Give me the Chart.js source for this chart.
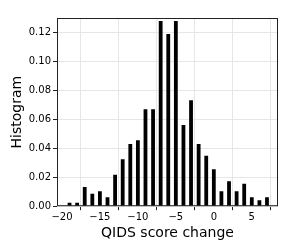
<!DOCTYPE html>
<html>
<head>
<meta charset="utf-8">
<script src="https://cdn.jsdelivr.net/npm/chart.js@4/dist/chart.umd.min.js"></script>
<style>
  html, body { margin: 0; padding: 0; background: #fff; }
  #wrap { width: 288px; height: 252px; }
</style>
</head>
<body>
<div id="wrap"><canvas id="chart"></canvas></div>
<script>
// QIDS score change histogram values
const scoreChange = [-19, -18, -17, -16, -15, -14, -13, -12, -11, -10, -9, -8, -7, -6,
                     -5, -4, -3, -2, -1, 0, 1, 2, 3, 4, 5, 6, 7];
const density = [0.0023, 0.0023, 0.0133, 0.0085, 0.0103, 0.0062, 0.0216, 0.0324, 0.0428, 0.0455,
                 0.0669, 0.0669, 0.1276, 0.1186, 0.1276, 0.0559, 0.0731, 0.0428, 0.0347, 0.0255,
                 0.0103, 0.0172, 0.0103, 0.0154, 0.0062, 0.0041, 0.0062];

const points = scoreChange.map((x, i) => ({ x: x, y: density[i] }));

// draw the box round the plot area like matplotlib
const frame = {
    id: 'frame',
    afterDraw(chart) {
        const a = chart.chartArea;
        const ctx = chart.ctx;
        ctx.save();
        ctx.strokeStyle = '#222';
        ctx.lineWidth = 1;
        ctx.strokeRect(a.left + 0.5, a.top + 0.5, a.right - a.left - 1, a.bottom - a.top - 1);
        ctx.restore();
    }
};

const font = { family: 'DejaVu Sans', size: 10 };

new Chart(document.getElementById('chart'), {
    type: 'bar',
    data: {
        datasets: [{
            data: points,
            backgroundColor: '#000',
            barPercentage: 0.5,
            categoryPercentage: 1.0
        }]
    },
    plugins: [frame],
    options: {
        responsive: true,
        maintainAspectRatio: false,
        animation: false,
        layout: { padding: { top: 18, right: 10, left: 9, bottom: 10 } },
        plugins: { legend: { display: false }, tooltip: { enabled: false } },
        scales: {
            x: {
                type: 'linear',
                min: -20.65,
                max: 8.45,
                offset: false,
                grid: { color: '#e6e6e6', tickColor: '#222', tickLength: 4, drawOnChartArea: true },
                border: { display: false },
                ticks: { stepSize: 5, includeBounds: false, color: '#000', font: font, padding: 1, maxRotation: 0,
                         callback: v => (v < 0 ? '\u2212' + Math.abs(v) : v) },
                title: { display: true, text: 'QIDS score change', color: '#000',
                         font: { family: 'DejaVu Sans', size: 14 }, padding: { top: 1, bottom: 0 } }
            },
            y: {
                min: 0,
                max: 0.1297,
                grid: { color: '#e6e6e6', tickColor: '#222', tickLength: 4 },
                border: { display: false },
                ticks: { stepSize: 0.02, includeBounds: false, color: '#000', font: font, padding: 2,
                         callback: v => v.toFixed(2) },
                title: { display: true, text: 'Histogram', color: '#000',
                         font: { family: 'DejaVu Sans', size: 14 }, padding: { top: 0, bottom: 2 } },
                afterFit(scale) { scale.width = 48; }
            }
        }
    }
});
</script>
</body>
</html>
